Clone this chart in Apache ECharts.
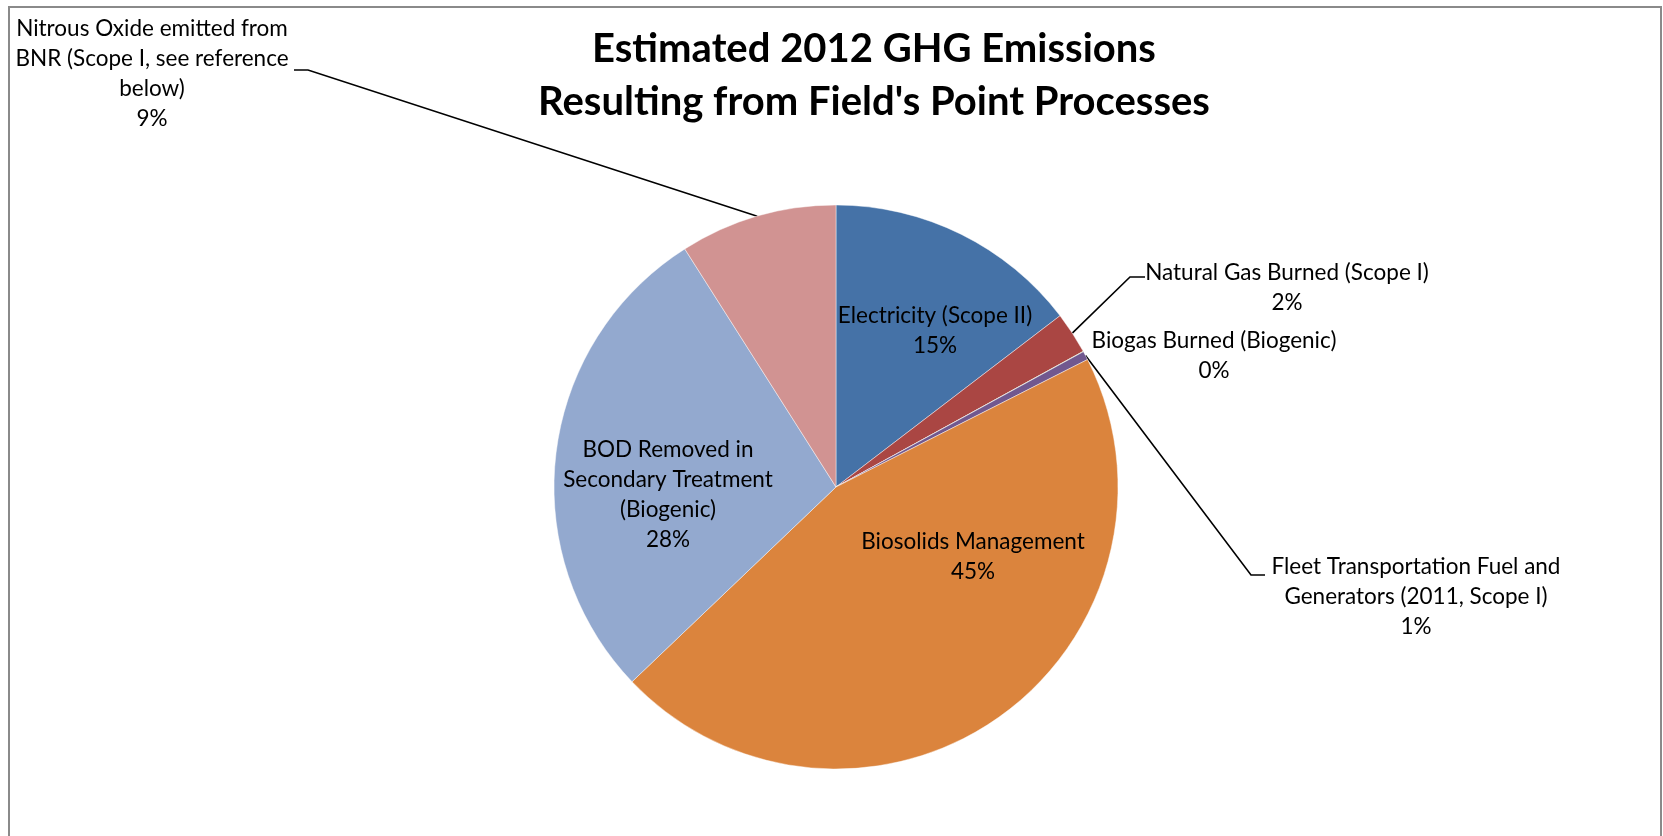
<!DOCTYPE html>
<html>
<head>
<meta charset="utf-8">
<title>Estimated 2012 GHG Emissions</title>
<script src="https://cdn.jsdelivr.net/npm/echarts@6/dist/echarts.min.js"></script>
<style>
  html, body { margin: 0; padding: 0; background: #ffffff; }
  #chart { width: 1663px; height: 836px; }
</style>
</head>
<body>
<div id="chart"></div>
<script>
// Emission sources (line breaks follow the label wrapping)
const categories = [
  'Electricity (Scope II)',
  'Natural Gas Burned (Scope I)',
  'Biogas Burned (Biogenic)',
  'Fleet Transportation Fuel and\nGenerators (2011, Scope I)',
  'Biosolids Management',
  'BOD Removed in\nSecondary Treatment\n(Biogenic)',
  'Nitrous Oxide emitted from\nBNR (Scope I, see reference\nbelow)'
];
// Share of total emissions, percent
const shares = [14.6, 2.4, 0.02, 0.5, 45.3, 28.1, 9.0];

const colors = ['#4572A7', '#AA4643', '#89A54E', '#71588F', '#DB843D', '#93A9CF', '#D19392'];

// Pie geometry
const CX = 836, CY = 487, R = 282;

// Label placement: centre of each label block
const labelCenters = [
  [935, 331], [1287, 288], [1214, 356], [1416, 597],
  [973, 557], [668, 495], [152, 74]
];
const insideLabels = [true, false, false, false, true, true, false];
// Elbow + end of each leader line (only for labels that have one)
const leaderTails = {
  1: [[1130, 277], [1145, 277]],
  3: [[1251, 575], [1265, 575]],
  6: [[308, 70], [294, 70]]
};

const total = shares.reduce((a, b) => a + b, 0);

// Point on the pie rim at the middle of slice i (clockwise from 12 o'clock)
function rimPoint(i) {
  let before = 0;
  for (let k = 0; k < i; k++) before += shares[k];
  const mid = (before + shares[i] / 2) / total * 2 * Math.PI;
  return [CX + R * Math.sin(mid), CY - R * Math.cos(mid)];
}

const FONT = 'Lato, "Noto Sans", sans-serif';

const data = categories.map((name, i) => ({
  name: name,
  value: shares[i],
  itemStyle: { color: colors[i] },
  label: { position: insideLabels[i] ? 'inside' : 'outside' },
  labelLine: { show: !!leaderTails[i] }
}));

const chart = echarts.init(document.getElementById('chart'), null, { renderer: 'canvas' });

chart.setOption({
  backgroundColor: '#ffffff',
  animation: false,
  title: {
    text: 'Estimated 2012 GHG Emissions\nResulting from Field\'s Point Processes',
    left: 874,
    top: 23,
    padding: 0,
    textAlign: 'center',
    textStyle: {
      fontFamily: FONT,
      fontWeight: 'bold',
      fontSize: 40,
      lineHeight: 53,
      color: '#000000'
    }
  },
  graphic: [{
    type: 'rect',
    shape: { x: 9, y: 7, width: 1652, height: 850 },
    style: { fill: 'none', stroke: '#8a8a8a', lineWidth: 2 },
    silent: true,
    z: 100
  }],
  series: [{
    type: 'pie',
    center: [CX, CY],
    radius: R,
    startAngle: 90,
    clockwise: true,
    avoidLabelOverlap: false,
    minAngle: 0,
    itemStyle: { borderColor: 'rgba(255,255,255,0.55)', borderWidth: 0.8 },
    label: {
      show: true,
      color: '#000000',
      fontFamily: FONT,
      fontSize: 22.5,
      lineHeight: 30,
      align: 'center',
      formatter: p => p.name + '\n' + Math.round(p.value * 100 / total) + '%'
    },
    labelLine: {
      show: false,
      lineStyle: { color: '#000000', width: 1.6 }
    },
    emphasis: { disabled: true },
    labelLayout: function (params) {
      const i = params.dataIndex;
      const c = labelCenters[i];
      const out = { x: c[0], y: c[1], align: 'center', verticalAlign: 'middle' };
      if (leaderTails[i]) {
        out.labelLinePoints = [rimPoint(i)].concat(leaderTails[i]);
      }
      return out;
    },
    data: data
  }]
});
</script>
</body>
</html>
